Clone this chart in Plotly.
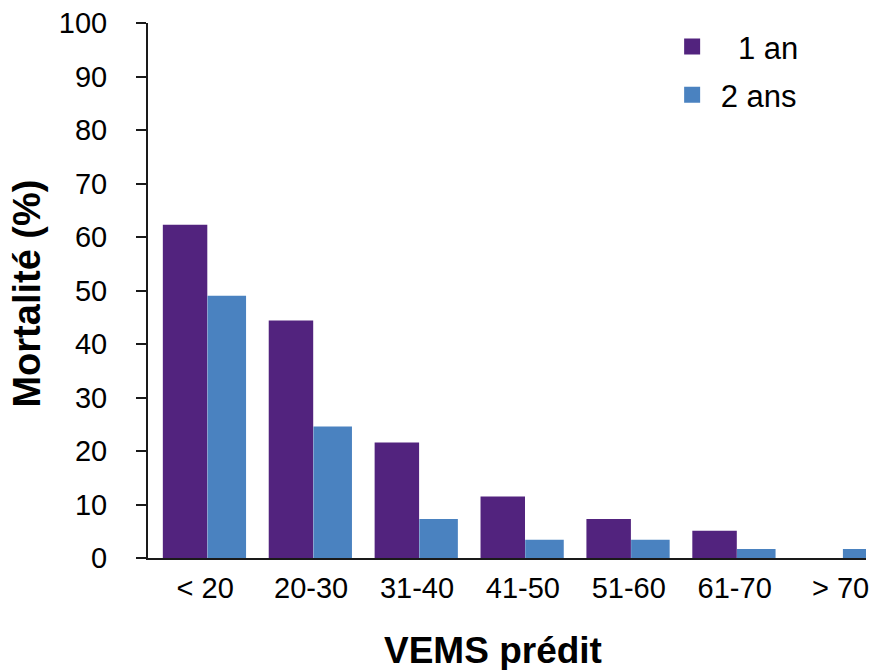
import plotly.graph_objects as go

# Mortality by predicted FEV1 class, at 1 and 2 years
categories = ["< 20", "20-30", "31-40", "41-50", "51-60", "61-70", "> 70"]
mortality_1y = [62.3, 44.4, 21.6, 11.5, 7.3, 5.1, 0]
mortality_2y = [49.0, 24.6, 7.3, 3.4, 3.4, 1.7, 1.7]
y_ticks = list(range(0, 101, 10))

series_names = ["\u00a0\u00a0\u00a01 an", "\u00a02 ans"]
colors = ["#52237e", "#4a82c0"]
font_family = "Liberation Sans, Arial, sans-serif"

fig = go.Figure()

# bars (purple slightly wider than blue, placed side by side)
fig.add_trace(go.Bar(
    x=categories, y=mortality_1y, marker=dict(color=colors[0], line=dict(width=0)),
    width=0.42, offset=-0.40, showlegend=False,
))
fig.add_trace(go.Bar(
    x=categories, y=mortality_2y, marker=dict(color=colors[1], line=dict(width=0)),
    width=0.364, offset=0.022, showlegend=False,
))

# legend entries with larger square swatches
for i, (name, col) in enumerate(zip(series_names, colors)):
    fig.add_trace(go.Scatter(
        x=[None], y=[None], mode="markers", name=name,
        marker=dict(symbol="square", size=16, color=col),
        legendgroup=f"g{i}",
    ))

fig.update_layout(
    width=869, height=670,
    margin=dict(l=148, r=0, t=23, b=112),
    paper_bgcolor="white", plot_bgcolor="white",
    font=dict(family=font_family, size=29, color="black"),
    barmode="overlay",
    showlegend=True,
    legend=dict(
        x=0.730, y=1.006, xanchor="left", yanchor="top",
        font=dict(size=31), bgcolor="rgba(0,0,0,0)",
        traceorder="grouped", tracegroupgap=5, itemsizing="trace",
    ),
    xaxis=dict(
        type="category", range=[-0.54, 6.24],
        showline=True, linecolor="#1a1a1a", linewidth=2,
        ticks="", showgrid=False, zeroline=False,
        tickfont=dict(size=29), ticklabelstandoff=3,
    ),
    yaxis=dict(
        range=[0, 100], tickvals=y_ticks,
        showline=True, linecolor="#1a1a1a", linewidth=2,
        ticks="outside", ticklen=10, tickwidth=2, tickcolor="#1a1a1a",
        showgrid=False, zeroline=False,
        tickfont=dict(size=29), ticklabelstandoff=23,
    ),
    annotations=[
        dict(text="<b>Mortalité (%)</b>", textangle=-90, xref="paper", yref="paper",
             x=-0.168, y=0.495, xanchor="center", yanchor="middle", showarrow=False,
             font=dict(size=38)),
        dict(text="<b>VEMS prédit</b>", xref="paper", yref="paper",
             x=0.48, y=-0.172, xanchor="center", yanchor="middle", showarrow=False,
             font=dict(size=37)),
    ],
)

fig.write_html("out.html")
